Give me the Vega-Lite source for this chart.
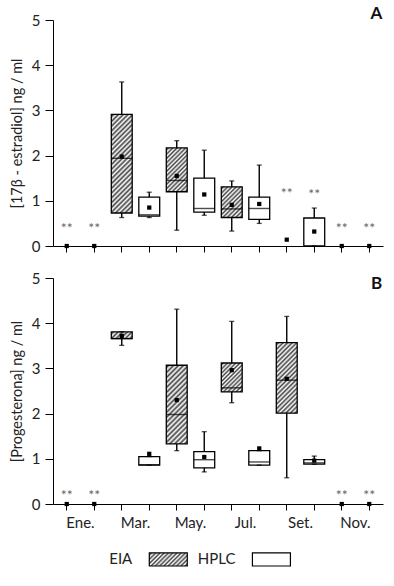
{
  "$schema": "https://vega.github.io/schema/vega-lite/v6.json",
  "padding": {"left": 9, "top": 5, "right": 5, "bottom": 5},
  "config": {
    "font": "Lato",
    "view": {"stroke": null},
    "axis": {"domainColor": "black", "tickColor": "black", "labelColor": "#222", "labelFont": "Lato", "labelFontSize": 15, "titleFont": "Lato", "titleFontSize": 14.5, "titleFontWeight": "normal", "titleColor": "#222", "grid": false, "domainWidth": 1, "tickWidth": 1}
  },
  "datasets": {
    "estradiol": [
      {"group": "Ene. EIA", "month": "Ene.", "method": "EIA", "mean": 0, "star": 0.47, "note": "**"},
      {"group": "Ene. HPLC", "month": "Ene.", "method": "HPLC", "mean": 0, "star": 0.47, "note": "**"},
      {"group": "Mar. EIA", "month": "Mar.", "method": "EIA", "min": 0.63, "q1": 0.73, "median": 1.94, "q3": 2.91, "max": 3.63, "mean": 1.98},
      {"group": "Mar. HPLC", "month": "Mar.", "method": "HPLC", "min": 0.63, "q1": 0.66, "median": 0.69, "q3": 1.08, "max": 1.19, "mean": 0.85},
      {"group": "May. EIA", "month": "May.", "method": "EIA", "min": 0.35, "q1": 1.2, "median": 1.45, "q3": 2.17, "max": 2.33, "mean": 1.55},
      {"group": "May. HPLC", "month": "May.", "method": "HPLC", "min": 0.68, "q1": 0.75, "median": 0.83, "q3": 1.5, "max": 2.12, "mean": 1.14},
      {"group": "Jul. EIA", "month": "Jul.", "method": "EIA", "min": 0.33, "q1": 0.63, "median": 0.82, "q3": 1.31, "max": 1.44, "mean": 0.91},
      {"group": "Jul. HPLC", "month": "Jul.", "method": "HPLC", "min": 0.5, "q1": 0.59, "median": 0.83, "q3": 1.08, "max": 1.79, "mean": 0.93},
      {"group": "Set. EIA", "month": "Set.", "method": "EIA", "mean": 0.14, "star": 1.24, "note": "**"},
      {"group": "Set. HPLC", "month": "Set.", "method": "HPLC", "min": 0, "q1": 0, "q3": 0.62, "max": 0.84, "mean": 0.32, "star": 1.22, "note": "**"},
      {"group": "Nov. EIA", "month": "Nov.", "method": "EIA", "mean": 0, "star": 0.46, "note": "**"},
      {"group": "Nov. HPLC", "month": "Nov.", "method": "HPLC", "mean": 0, "star": 0.46, "note": "**"}
    ],
    "progesterona": [
      {"group": "Ene. EIA", "month": "Ene.", "method": "EIA", "mean": 0, "star": 0.26, "note": "**"},
      {"group": "Ene. HPLC", "month": "Ene.", "method": "HPLC", "mean": 0, "star": 0.26, "note": "**"},
      {"group": "Mar. EIA", "month": "Mar.", "method": "EIA", "min": 3.51, "q1": 3.66, "median": 3.66, "q3": 3.81, "max": 3.81, "mean": 3.72},
      {"group": "Mar. HPLC", "month": "Mar.", "method": "HPLC", "min": 0.86, "q1": 0.86, "median": 0.87, "q3": 1.05, "max": 1.05, "mean": 1.11},
      {"group": "May. EIA", "month": "May.", "method": "EIA", "min": 1.18, "q1": 1.33, "median": 1.98, "q3": 3.07, "max": 4.31, "mean": 2.3},
      {"group": "May. HPLC", "month": "May.", "method": "HPLC", "min": 0.71, "q1": 0.8, "median": 0.98, "q3": 1.16, "max": 1.6, "mean": 1.04},
      {"group": "Jul. EIA", "month": "Jul.", "method": "EIA", "min": 2.24, "q1": 2.48, "median": 2.57, "q3": 3.12, "max": 4.04, "mean": 2.96},
      {"group": "Jul. HPLC", "month": "Jul.", "method": "HPLC", "min": 0.86, "q1": 0.86, "median": 0.93, "q3": 1.18, "max": 1.18, "mean": 1.23},
      {"group": "Set. EIA", "month": "Set.", "method": "EIA", "min": 0.58, "q1": 2.01, "median": 2.74, "q3": 3.57, "max": 4.15, "mean": 2.77},
      {"group": "Set. HPLC", "month": "Set.", "method": "HPLC", "min": 0.88, "q1": 0.88, "median": 0.91, "q3": 0.98, "max": 1.06, "mean": 0.96},
      {"group": "Nov. EIA", "month": "Nov.", "method": "EIA", "mean": 0, "star": 0.26, "note": "**"},
      {"group": "Nov. HPLC", "month": "Nov.", "method": "HPLC", "mean": 0, "star": 0.26, "note": "**"}
    ],
    "legend": [{"method": "EIA"}, {"method": "HPLC"}]
  },
  "bounds": "flush",
  "spacing": 32,
  "vconcat": [
    {
      "width": 330,
      "height": 226,
      "data": {"name": "estradiol"},
      "encoding": {
        "x": {"field": "group", "type": "nominal",
          "scale": {"domain": ["Ene. EIA", "Ene. HPLC", "Mar. EIA", "Mar. HPLC", "May. EIA", "May. HPLC", "Jul. EIA", "Jul. HPLC", "Set. EIA", "Set. HPLC", "Nov. EIA", "Nov. HPLC"], "paddingInner": 0.24, "paddingOuter": 0.12},
          "axis": {"labels": false, "title": null, "tickSize": 6}}
      },
      "layer": [
        {"mark": {"type": "rule", "color": "black", "strokeWidth": 1.4},
         "encoding": {
           "y": {"field": "min", "type": "quantitative", "scale": {"domain": [0, 5], "nice": false},
             "axis": {"title": "[17β - estradiol] ng / ml", "values": [0, 0.5, 1, 1.5, 2, 2.5, 3, 3.5, 4, 4.5, 5], "labelExpr": "datum.value % 1 === 0 ? datum.label : ''", "tickSize": {"condition": {"test": "datum.value % 1 !== 0", "value": 4}, "value": 8}, "labelPadding": 5, "titlePadding": 7}},
           "y2": {"field": "max"}}},
        {"mark": {"type": "bar", "stroke": "black", "strokeWidth": 1.3},
         "encoding": {
           "y": {"field": "q1", "type": "quantitative"},
           "y2": {"field": "q3"},
           "fill": {"condition": [
             {"test": "datum.group === 'Mar. EIA'", "value": {"gradient": "linear", "x1": 0, "y1": 0, "x2": 0.246, "y2": 1.16, "stops": [
               {"offset": 0, "color": "#fff"}, {"offset": 0.02, "color": "#444"}, {"offset": 0.04, "color": "#fff"}, {"offset": 0.06, "color": "#444"}, {"offset": 0.08, "color": "#fff"}, {"offset": 0.1, "color": "#444"}, {"offset": 0.12, "color": "#fff"}, {"offset": 0.14, "color": "#444"}, {"offset": 0.16, "color": "#fff"}, {"offset": 0.18, "color": "#444"}, {"offset": 0.2, "color": "#fff"}, {"offset": 0.22, "color": "#444"}, {"offset": 0.24, "color": "#fff"}, {"offset": 0.26, "color": "#444"}, {"offset": 0.28, "color": "#fff"}, {"offset": 0.3, "color": "#444"}, {"offset": 0.32, "color": "#fff"}, {"offset": 0.34, "color": "#444"}, {"offset": 0.36, "color": "#fff"}, {"offset": 0.38, "color": "#444"}, {"offset": 0.4, "color": "#fff"}, {"offset": 0.42, "color": "#444"}, {"offset": 0.44, "color": "#fff"}, {"offset": 0.46, "color": "#444"}, {"offset": 0.48, "color": "#fff"}, {"offset": 0.5, "color": "#444"}, {"offset": 0.52, "color": "#fff"}, {"offset": 0.54, "color": "#444"}, {"offset": 0.56, "color": "#fff"}, {"offset": 0.58, "color": "#444"}, {"offset": 0.6, "color": "#fff"}, {"offset": 0.62, "color": "#444"}, {"offset": 0.64, "color": "#fff"}, {"offset": 0.66, "color": "#444"}, {"offset": 0.68, "color": "#fff"}, {"offset": 0.7, "color": "#444"}, {"offset": 0.72, "color": "#fff"}, {"offset": 0.74, "color": "#444"}, {"offset": 0.76, "color": "#fff"}, {"offset": 0.78, "color": "#444"}, {"offset": 0.8, "color": "#fff"}, {"offset": 0.82, "color": "#444"}, {"offset": 0.84, "color": "#fff"}, {"offset": 0.86, "color": "#444"}, {"offset": 0.88, "color": "#fff"}, {"offset": 0.9, "color": "#444"}, {"offset": 0.92, "color": "#fff"}, {"offset": 0.94, "color": "#444"}, {"offset": 0.96, "color": "#fff"}, {"offset": 0.98, "color": "#444"}, {"offset": 1, "color": "#fff"}]}},
             {"test": "datum.group === 'May. EIA'", "value": {"gradient": "linear", "x1": 0, "y1": 0, "x2": 0.574, "y2": 1.203, "stops": [
               {"offset": 0, "color": "#fff"}, {"offset": 0.0333, "color": "#444"}, {"offset": 0.0667, "color": "#fff"}, {"offset": 0.1, "color": "#444"}, {"offset": 0.1333, "color": "#fff"}, {"offset": 0.1667, "color": "#444"}, {"offset": 0.2, "color": "#fff"}, {"offset": 0.2333, "color": "#444"}, {"offset": 0.2667, "color": "#fff"}, {"offset": 0.3, "color": "#444"}, {"offset": 0.3333, "color": "#fff"}, {"offset": 0.3667, "color": "#444"}, {"offset": 0.4, "color": "#fff"}, {"offset": 0.4333, "color": "#444"}, {"offset": 0.4667, "color": "#fff"}, {"offset": 0.5, "color": "#444"}, {"offset": 0.5333, "color": "#fff"}, {"offset": 0.5667, "color": "#444"}, {"offset": 0.6, "color": "#fff"}, {"offset": 0.6333, "color": "#444"}, {"offset": 0.6667, "color": "#fff"}, {"offset": 0.7, "color": "#444"}, {"offset": 0.7333, "color": "#fff"}, {"offset": 0.7667, "color": "#444"}, {"offset": 0.8, "color": "#fff"}, {"offset": 0.8333, "color": "#444"}, {"offset": 0.8667, "color": "#fff"}, {"offset": 0.9, "color": "#444"}, {"offset": 0.9333, "color": "#fff"}, {"offset": 0.9667, "color": "#444"}, {"offset": 1, "color": "#fff"}]}},
             {"test": "datum.group === 'Jul. EIA'", "value": {"gradient": "linear", "x1": 0, "y1": 0, "x2": 0.782, "y2": 1.148, "stops": [
               {"offset": 0, "color": "#fff"}, {"offset": 0.0417, "color": "#444"}, {"offset": 0.0833, "color": "#fff"}, {"offset": 0.125, "color": "#444"}, {"offset": 0.1667, "color": "#fff"}, {"offset": 0.2083, "color": "#444"}, {"offset": 0.25, "color": "#fff"}, {"offset": 0.2917, "color": "#444"}, {"offset": 0.3333, "color": "#fff"}, {"offset": 0.375, "color": "#444"}, {"offset": 0.4167, "color": "#fff"}, {"offset": 0.4583, "color": "#444"}, {"offset": 0.5, "color": "#fff"}, {"offset": 0.5417, "color": "#444"}, {"offset": 0.5833, "color": "#fff"}, {"offset": 0.625, "color": "#444"}, {"offset": 0.6667, "color": "#fff"}, {"offset": 0.7083, "color": "#444"}, {"offset": 0.75, "color": "#fff"}, {"offset": 0.7917, "color": "#444"}, {"offset": 0.8333, "color": "#fff"}, {"offset": 0.875, "color": "#444"}, {"offset": 0.9167, "color": "#fff"}, {"offset": 0.9583, "color": "#444"}, {"offset": 1, "color": "#fff"}]}}
           ], "value": "#fff"}}},
        {"mark": {"type": "tick", "color": "black", "thickness": 1.4, "size": 21},
         "encoding": {"y": {"field": "median", "type": "quantitative"}}},
        {"mark": {"type": "tick", "color": "black", "thickness": 1.3, "size": 5},
         "encoding": {"y": {"field": "max", "type": "quantitative"}}},
        {"mark": {"type": "tick", "color": "black", "thickness": 1.3, "size": 5},
         "encoding": {"y": {"field": "min", "type": "quantitative"}}},
        {"mark": {"type": "point", "shape": "square", "filled": true, "color": "black", "size": 18, "opacity": 1},
         "encoding": {"y": {"field": "mean", "type": "quantitative"}}},
        {"mark": {"type": "text", "color": "#666", "fontSize": 14, "baseline": "alphabetic", "dy": 8},
         "encoding": {"y": {"field": "star", "type": "quantitative"}, "text": {"field": "note"}}},
        {"data": {"values": [{"panel": "A"}]},
         "mark": {"type": "text", "fontSize": 17, "fontWeight": "bold", "align": "right", "baseline": "alphabetic", "dx": 13, "dy": -1, "color": "#111"},
         "encoding": {"x": {"datum": "Nov. HPLC"}, "y": {"datum": 5}, "text": {"field": "panel"}}}
      ]
    },
    {
      "width": 330,
      "height": 226,
      "data": {"name": "progesterona"},
      "encoding": {
        "x": {"field": "group", "type": "nominal",
          "scale": {"domain": ["Ene. EIA", "Ene. HPLC", "Mar. EIA", "Mar. HPLC", "May. EIA", "May. HPLC", "Jul. EIA", "Jul. HPLC", "Set. EIA", "Set. HPLC", "Nov. EIA", "Nov. HPLC"], "paddingInner": 0.24, "paddingOuter": 0.12},
          "axis": {"title": null, "tickSize": 6, "labelAngle": 0, "labelBaseline": "top", "labelPadding": 5, "labelOffset": 13.75, "labelExpr": "indexof(datum.value, 'EIA') >= 0 ? split(datum.value, ' ')[0] : ''"}}
      },
      "layer": [
        {"mark": {"type": "rule", "color": "black", "strokeWidth": 1.4},
         "encoding": {
           "y": {"field": "min", "type": "quantitative", "scale": {"domain": [0, 5], "nice": false},
             "axis": {"title": "[Progesterona] ng / ml", "values": [0, 0.5, 1, 1.5, 2, 2.5, 3, 3.5, 4, 4.5, 5], "labelExpr": "datum.value % 1 === 0 ? datum.label : ''", "tickSize": {"condition": {"test": "datum.value % 1 !== 0", "value": 4}, "value": 8}, "labelPadding": 5, "titlePadding": 7}},
           "y2": {"field": "max"}}},
        {"mark": {"type": "bar", "stroke": "black", "strokeWidth": 1.3},
         "encoding": {
           "y": {"field": "q1", "type": "quantitative"},
           "y2": {"field": "q3"},
           "fill": {"condition": [
             {"test": "datum.group === 'Mar. EIA'", "value": {"gradient": "linear", "x1": 0, "y1": 0, "x2": 1.199, "y2": 0.39, "stops": [
               {"offset": 0, "color": "#fff"}, {"offset": 0.0833, "color": "#444"}, {"offset": 0.1667, "color": "#fff"}, {"offset": 0.25, "color": "#444"}, {"offset": 0.3333, "color": "#fff"}, {"offset": 0.4167, "color": "#444"}, {"offset": 0.5, "color": "#fff"}, {"offset": 0.5833, "color": "#444"}, {"offset": 0.6667, "color": "#fff"}, {"offset": 0.75, "color": "#444"}, {"offset": 0.8333, "color": "#fff"}, {"offset": 0.9167, "color": "#444"}, {"offset": 1, "color": "#fff"}]}},
             {"test": "datum.group === 'May. EIA'", "value": {"gradient": "linear", "x1": 0, "y1": 0, "x2": 0.315, "y2": 1.182, "stops": [
               {"offset": 0, "color": "#fff"}, {"offset": 0.025, "color": "#444"}, {"offset": 0.05, "color": "#fff"}, {"offset": 0.075, "color": "#444"}, {"offset": 0.1, "color": "#fff"}, {"offset": 0.125, "color": "#444"}, {"offset": 0.15, "color": "#fff"}, {"offset": 0.175, "color": "#444"}, {"offset": 0.2, "color": "#fff"}, {"offset": 0.225, "color": "#444"}, {"offset": 0.25, "color": "#fff"}, {"offset": 0.275, "color": "#444"}, {"offset": 0.3, "color": "#fff"}, {"offset": 0.325, "color": "#444"}, {"offset": 0.35, "color": "#fff"}, {"offset": 0.375, "color": "#444"}, {"offset": 0.4, "color": "#fff"}, {"offset": 0.425, "color": "#444"}, {"offset": 0.45, "color": "#fff"}, {"offset": 0.475, "color": "#444"}, {"offset": 0.5, "color": "#fff"}, {"offset": 0.525, "color": "#444"}, {"offset": 0.55, "color": "#fff"}, {"offset": 0.575, "color": "#444"}, {"offset": 0.6, "color": "#fff"}, {"offset": 0.625, "color": "#444"}, {"offset": 0.65, "color": "#fff"}, {"offset": 0.675, "color": "#444"}, {"offset": 0.7, "color": "#fff"}, {"offset": 0.725, "color": "#444"}, {"offset": 0.75, "color": "#fff"}, {"offset": 0.775, "color": "#444"}, {"offset": 0.8, "color": "#fff"}, {"offset": 0.825, "color": "#444"}, {"offset": 0.85, "color": "#fff"}, {"offset": 0.875, "color": "#444"}, {"offset": 0.9, "color": "#fff"}, {"offset": 0.925, "color": "#444"}, {"offset": 0.95, "color": "#fff"}, {"offset": 0.975, "color": "#444"}, {"offset": 1, "color": "#fff"}]}},
             {"test": "datum.group === 'Jul. EIA'", "value": {"gradient": "linear", "x1": 0, "y1": 0, "x2": 0.818, "y2": 1.131, "stops": [
               {"offset": 0, "color": "#fff"}, {"offset": 0.0417, "color": "#444"}, {"offset": 0.0833, "color": "#fff"}, {"offset": 0.125, "color": "#444"}, {"offset": 0.1667, "color": "#fff"}, {"offset": 0.2083, "color": "#444"}, {"offset": 0.25, "color": "#fff"}, {"offset": 0.2917, "color": "#444"}, {"offset": 0.3333, "color": "#fff"}, {"offset": 0.375, "color": "#444"}, {"offset": 0.4167, "color": "#fff"}, {"offset": 0.4583, "color": "#444"}, {"offset": 0.5, "color": "#fff"}, {"offset": 0.5417, "color": "#444"}, {"offset": 0.5833, "color": "#fff"}, {"offset": 0.625, "color": "#444"}, {"offset": 0.6667, "color": "#fff"}, {"offset": 0.7083, "color": "#444"}, {"offset": 0.75, "color": "#fff"}, {"offset": 0.7917, "color": "#444"}, {"offset": 0.8333, "color": "#fff"}, {"offset": 0.875, "color": "#444"}, {"offset": 0.9167, "color": "#fff"}, {"offset": 0.9583, "color": "#444"}, {"offset": 1, "color": "#fff"}]}},
             {"test": "datum.group === 'Set. EIA'", "value": {"gradient": "linear", "x1": 0, "y1": 0, "x2": 0.354, "y2": 1.192, "stops": [
               {"offset": 0, "color": "#fff"}, {"offset": 0.025, "color": "#444"}, {"offset": 0.05, "color": "#fff"}, {"offset": 0.075, "color": "#444"}, {"offset": 0.1, "color": "#fff"}, {"offset": 0.125, "color": "#444"}, {"offset": 0.15, "color": "#fff"}, {"offset": 0.175, "color": "#444"}, {"offset": 0.2, "color": "#fff"}, {"offset": 0.225, "color": "#444"}, {"offset": 0.25, "color": "#fff"}, {"offset": 0.275, "color": "#444"}, {"offset": 0.3, "color": "#fff"}, {"offset": 0.325, "color": "#444"}, {"offset": 0.35, "color": "#fff"}, {"offset": 0.375, "color": "#444"}, {"offset": 0.4, "color": "#fff"}, {"offset": 0.425, "color": "#444"}, {"offset": 0.45, "color": "#fff"}, {"offset": 0.475, "color": "#444"}, {"offset": 0.5, "color": "#fff"}, {"offset": 0.525, "color": "#444"}, {"offset": 0.55, "color": "#fff"}, {"offset": 0.575, "color": "#444"}, {"offset": 0.6, "color": "#fff"}, {"offset": 0.625, "color": "#444"}, {"offset": 0.65, "color": "#fff"}, {"offset": 0.675, "color": "#444"}, {"offset": 0.7, "color": "#fff"}, {"offset": 0.725, "color": "#444"}, {"offset": 0.75, "color": "#fff"}, {"offset": 0.775, "color": "#444"}, {"offset": 0.8, "color": "#fff"}, {"offset": 0.825, "color": "#444"}, {"offset": 0.85, "color": "#fff"}, {"offset": 0.875, "color": "#444"}, {"offset": 0.9, "color": "#fff"}, {"offset": 0.925, "color": "#444"}, {"offset": 0.95, "color": "#fff"}, {"offset": 0.975, "color": "#444"}, {"offset": 1, "color": "#fff"}]}}
           ], "value": "#fff"}}},
        {"mark": {"type": "tick", "color": "black", "thickness": 1.4, "size": 21},
         "encoding": {"y": {"field": "median", "type": "quantitative"}}},
        {"mark": {"type": "tick", "color": "black", "thickness": 1.3, "size": 5},
         "encoding": {"y": {"field": "max", "type": "quantitative"}}},
        {"mark": {"type": "tick", "color": "black", "thickness": 1.3, "size": 5},
         "encoding": {"y": {"field": "min", "type": "quantitative"}}},
        {"mark": {"type": "point", "shape": "square", "filled": true, "color": "black", "size": 18, "opacity": 1},
         "encoding": {"y": {"field": "mean", "type": "quantitative"}}},
        {"mark": {"type": "text", "color": "#666", "fontSize": 14, "baseline": "alphabetic", "dy": 8},
         "encoding": {"y": {"field": "star", "type": "quantitative"}, "text": {"field": "note"}}},
        {"data": {"values": [{"panel": "B"}]},
         "mark": {"type": "text", "fontSize": 17, "fontWeight": "bold", "align": "right", "baseline": "alphabetic", "dx": 13, "dy": 11, "color": "#111"},
         "encoding": {"x": {"datum": "Nov. HPLC"}, "y": {"datum": 5}, "text": {"field": "panel"}}}
      ]
    },
    {
      "width": 330,
      "height": 30,
      "data": {"name": "legend"},
      "encoding": {
        "x": {"field": "method", "type": "nominal", "scale": {"domain": ["EIA", "HPLC"], "paddingInner": 0, "paddingOuter": 0.6, "align": 0.515}, "axis": null}
      },
      "layer": [
        {"mark": {"type": "bar", "width": 38, "stroke": "black", "strokeWidth": 1.2},
         "encoding": {
           "y": {"datum": 0, "type": "quantitative", "scale": {"domain": [0, 2.3], "nice": false}, "axis": null},
           "y2": {"datum": 1},
           "fill": {"condition": {"test": "datum.method === 'EIA'", "value": {"gradient": "linear", "x1": 0, "y1": 0, "x2": 1.201, "y2": 0.411, "stops": [
           {"offset": 0, "color": "#fff"}, {"offset": 0.0417, "color": "#444"}, {"offset": 0.0833, "color": "#fff"}, {"offset": 0.125, "color": "#444"}, {"offset": 0.1667, "color": "#fff"}, {"offset": 0.2083, "color": "#444"}, {"offset": 0.25, "color": "#fff"}, {"offset": 0.2917, "color": "#444"}, {"offset": 0.3333, "color": "#fff"}, {"offset": 0.375, "color": "#444"}, {"offset": 0.4167, "color": "#fff"}, {"offset": 0.4583, "color": "#444"}, {"offset": 0.5, "color": "#fff"}, {"offset": 0.5417, "color": "#444"}, {"offset": 0.5833, "color": "#fff"}, {"offset": 0.625, "color": "#444"}, {"offset": 0.6667, "color": "#fff"}, {"offset": 0.7083, "color": "#444"}, {"offset": 0.75, "color": "#fff"}, {"offset": 0.7917, "color": "#444"}, {"offset": 0.8333, "color": "#fff"}, {"offset": 0.875, "color": "#444"}, {"offset": 0.9167, "color": "#fff"}, {"offset": 0.9583, "color": "#444"}, {"offset": 1, "color": "#fff"}]}}, "value": "#fff"}}},
        {"mark": {"type": "text", "align": "right", "dx": -36, "fontSize": 15, "color": "#222", "baseline": "middle"},
         "encoding": {
           "y": {"datum": 0.5, "type": "quantitative"},
           "text": {"field": "method"}}}
      ]
    }
  ]
}
